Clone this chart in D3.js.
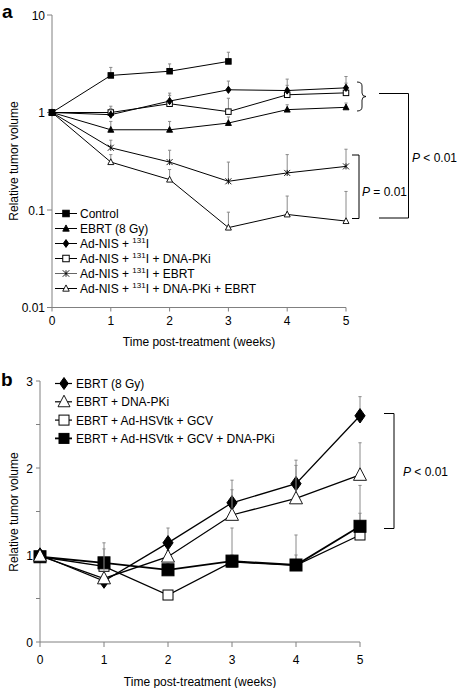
<!DOCTYPE html>
<html><head><meta charset="utf-8">
<script src="https://cdn.jsdelivr.net/npm/d3@7"></script>
<style>body{margin:0;background:#fff}svg{display:block}text{font-family:"Liberation Sans",Arial,sans-serif;fill:#000}</style>
</head><body>
<script>
// ---------- Panel a data ----------
const weeksA = [0,1,2,3,4,5];
const controlA = [1, 2.4, 2.65, 3.34];
const controlErrA = [null, 2.9, 3.15, 4.15];
const ebrtA = [1, 0.665, 0.665, 0.78, 1.07, 1.13];
const ebrtErrA = [null, 0.81, 0.81, 0.9, 1.2, 1.25];
const nisA = [1, 0.95, 1.31, 1.71, 1.68, 1.79];
const nisErrA = [null, 1.1, 1.58, 2.1, 2.2, 2.34];
const nisPkA = [1, 1.0, 1.23, 1.02, 1.52, 1.59];
const nisPkErrA = [null, 1.16, 1.5, 1.4, 1.9, 2.0];
const nisEbrtA = [1, 0.435, 0.31, 0.197, 0.24, 0.28];
const nisEbrtErrA = [null, 0.52, 0.41, 0.31, 0.37, 0.42];
const nisPkEbrtA = [1, 0.31, 0.205, 0.066, 0.09, 0.077];
const nisPkEbrtErrA = [null, 0.37, 0.26, 0.095, 0.139, 0.155];
const yTicksA = [10, 1, 0.1, 0.01];
const yTickLabelsA = ["10", "1", "0.1", "0.01"];

// ---------- Panel b data ----------
const weeksB = [0,1,2,3,4,5];
const ebrtB = [1.0, 0.70, 1.14, 1.6, 1.82, 2.6];
const ebrtErrB = [null, null, 1.31, 1.86, 2.09, 2.82];
const ebrtPkB = [0.99, 0.73, 0.98, 1.46, 1.65, 1.92];
const ebrtPkErrB = [null, 1.07, 1.05, 1.75, 2.03, 2.29];
const hsvB = [0.98, 0.87, 0.54, 0.92, 0.88, 1.23];
const hsvErrB = [null, 0.95, null, 1.0, 1.0, 1.48];
const hsvPkB = [0.98, 0.91, 0.83, 0.93, 0.885, 1.33];
const hsvPkErrB = [null, 1.14, 0.9, 1.31, 1.23, 1.8];
const yTicksB = [0, 0.5, 1, 1.5, 2, 2.5, 3];
const yTickLabelsB = ["0", "", "1", "", "2", "", "3"];

const W = 458, H = 688;
const FS = 12;
const svg = d3.select("body").append("svg").attr("width", W).attr("height", H);
const AX = "#808080", ERR = "#8a8a8a";

function marker(g, type, x, y, s) {
  const h = s/2;
  if (type === "sqF" || type === "sqO") {
    g.append("rect").attr("x", x-h).attr("y", y-h).attr("width", s).attr("height", s)
      .attr("fill", type === "sqF" ? "#000" : "#fff").attr("stroke", "#000").attr("stroke-width", 1);
  } else if (type === "triF" || type === "triO") {
    const hh = s*0.55;
    g.append("path").attr("d", `M${x},${y-hh}L${x+h},${y+hh*0.75}L${x-h},${y+hh*0.75}Z`)
      .attr("fill", type === "triF" ? "#000" : "#fff").attr("stroke", "#000").attr("stroke-width", 0.9);
  } else if (type === "dia") {
    const hh = s*0.6;
    g.append("path").attr("d", `M${x},${y-hh}L${x+h*0.85},${y}L${x},${y+hh}L${x-h*0.85},${y}Z`).attr("fill", "#000").attr("stroke", "#000");
  } else if (type === "star") {
    g.append("path").attr("d", `M${x-h},${y-h}L${x+h},${y+h}M${x-h},${y+h}L${x+h},${y-h}M${x},${y-h}L${x},${y+h}`)
      .attr("stroke", "#000").attr("stroke-width", 0.9).attr("fill", "none");
  }
}

function drawSeries(g, xs, vals, errs, xS, yS, type, size, sw) {
  const pts = vals.map((v,i) => [xS(xs[i]), yS(v)]);
  errs.forEach((e,i) => {
    if (e == null || i >= vals.length) return;
    const x = xS(xs[i]);
    g.append("line").attr("x1", x).attr("x2", x).attr("y1", yS(vals[i])).attr("y2", yS(e)).attr("stroke", ERR).attr("stroke-width", 1);
    g.append("line").attr("x1", x-1.6).attr("x2", x+1.6).attr("y1", yS(e)).attr("y2", yS(e)).attr("stroke", ERR).attr("stroke-width", 1);
  });
  g.append("path").attr("d", d3.line()(pts)).attr("fill", "none").attr("stroke", "#000").attr("stroke-width", sw);
  pts.forEach(p => marker(g, type, p[0], p[1], size));
}

// ================= Panel a =================
const xA = d3.scaleLinear().domain([0,5]).range([52,346]);
const yA = d3.scaleLog().domain([0.01,10]).range([307.5,15]);
const gA = svg.append("g");

svg.append("text").attr("x", 2).attr("y", 18).attr("font-size", 19).attr("font-weight", "bold").text("a");

const axA = gA.append("g");
axA.append("line").attr("x1", xA(0)).attr("x2", xA(0)).attr("y1", yA(10)).attr("y2", yA(0.01)).attr("stroke", AX);
axA.append("line").attr("x1", xA(0)).attr("x2", xA(5)).attr("y1", yA(0.01)).attr("y2", yA(0.01)).attr("stroke", AX);
yTicksA.forEach((t,i) => {
  axA.append("line").attr("x1", xA(0)-5).attr("x2", xA(0)).attr("y1", yA(t)).attr("y2", yA(t)).attr("stroke", AX);
  axA.append("text").attr("x", xA(0)-7).attr("y", yA(t)+4.5).attr("text-anchor", "end").attr("font-size", FS).text(yTickLabelsA[i]);
});
weeksA.forEach(t => {
  axA.append("line").attr("x1", xA(t)).attr("x2", xA(t)).attr("y1", yA(0.01)).attr("y2", yA(0.01)+4).attr("stroke", AX);
  axA.append("text").attr("x", xA(t)).attr("y", 325).attr("text-anchor", "middle").attr("font-size", FS).text(t);
});
axA.append("text").attr("x", 199).attr("y", 346).attr("text-anchor", "middle").attr("font-size", FS).text("Time post-treatment (weeks)");
axA.append("text").attr("transform", "translate(18,161) rotate(-90)").attr("text-anchor", "middle").attr("font-size", FS).text("Relative tumor volume");

drawSeries(gA, weeksA, nisPkEbrtA, nisPkEbrtErrA, xA, yA, "triO", 6, 1);
drawSeries(gA, weeksA, nisEbrtA, nisEbrtErrA, xA, yA, "star", 6, 1);
drawSeries(gA, weeksA, ebrtA, ebrtErrA, xA, yA, "triF", 6, 1);
drawSeries(gA, weeksA, nisPkA, nisPkErrA, xA, yA, "sqO", 5.5, 1);
drawSeries(gA, weeksA, nisA, nisErrA, xA, yA, "dia", 6, 1);
drawSeries(gA, weeksA, controlA, controlErrA, xA, yA, "sqF", 5.5, 1);

const legA = [
  {type:"sqF", parts:[["Control"]]},
  {type:"triF", parts:[["EBRT (8 Gy)"]]},
  {type:"dia", parts:[["Ad-NIS + "],["131","sup"],["I"]]},
  {type:"sqO", parts:[["Ad-NIS + "],["131","sup"],["I + DNA-PKi"]]},
  {type:"star", parts:[["Ad-NIS + "],["131","sup"],["I + EBRT"]]},
  {type:"triO", parts:[["Ad-NIS + "],["131","sup"],["I + DNA-PKi + EBRT"]]}
];
legA.forEach((d,i) => {
  const y = 213.5 + i*15;
  const g = gA.append("g");
  g.append("line").attr("x1", 55).attr("x2", 77).attr("y1", y).attr("y2", y).attr("stroke", d.type==="star"?"#666":"#000").attr("stroke-width", 1);
  marker(g, d.type, 66, y, 6.5);
  const t = g.append("text").attr("x", 80).attr("y", y+4.5).attr("font-size", FS);
  d.parts.forEach((p, k) => {
    if (p[1] === "sup") t.append("tspan").attr("font-size", 8).attr("dy", -5).text(p[0]);
    else if (k > 1) t.append("tspan").attr("dy", 5).text(p[0]);
    else t.append("tspan").text(p[0]);
  });
});

gA.append("path").attr("d", "M357,82 Q362,82 362,86 L362,93 Q362,96.5 366,96.5 Q362,96.5 362,100 L362,107 Q362,111 357,111")
  .attr("fill", "none").attr("stroke", "#000").attr("stroke-width", 0.9);
gA.append("path").attr("d", "M379,93.5 L408.5,93.5 L408.5,218 L379,218").attr("fill", "none").attr("stroke", "#000").attr("stroke-width", 1);
gA.append("path").attr("d", "M352,155 L359,155 L359,218.5 L352,218.5").attr("fill", "none").attr("stroke", "#000").attr("stroke-width", 1);
const pa1 = gA.append("text").attr("x", 412).attr("y", 162).attr("font-size", FS);
pa1.append("tspan").attr("font-style", "italic").text("P");
pa1.append("tspan").text(" < 0.01");
const pa2 = gA.append("text").attr("x", 362).attr("y", 196).attr("font-size", FS);
pa2.append("tspan").attr("font-style", "italic").text("P");
pa2.append("tspan").text(" = 0.01");

// ================= Panel b =================
const xB = d3.scaleLinear().domain([0,5]).range([40,360]);
const yB = d3.scaleLinear().domain([0,3]).range([642,381]);
const gB = svg.append("g");
svg.append("text").attr("x", 1).attr("y", 386).attr("font-size", 19).attr("font-weight", "bold").text("b");

const axB = gB.append("g");
axB.append("line").attr("x1", xB(0)).attr("x2", xB(0)).attr("y1", yB(3)).attr("y2", yB(0)).attr("stroke", AX);
axB.append("line").attr("x1", xB(0)).attr("x2", xB(5)).attr("y1", yB(0)).attr("y2", yB(0)).attr("stroke", AX);
yTicksB.forEach((t,i) => {
  axB.append("line").attr("x1", xB(0)-4).attr("x2", xB(0)).attr("y1", yB(t)).attr("y2", yB(t)).attr("stroke", AX);
  if (yTickLabelsB[i]) axB.append("text").attr("x", xB(0)-7).attr("y", yB(t)+4.5).attr("text-anchor", "end").attr("font-size", FS).text(yTickLabelsB[i]);
});
weeksB.forEach(t => {
  axB.append("line").attr("x1", xB(t)).attr("x2", xB(t)).attr("y1", yB(0)).attr("y2", yB(0)+5).attr("stroke", AX);
  axB.append("text").attr("x", xB(t)).attr("y", 664).attr("text-anchor", "middle").attr("font-size", FS).text(t);
});
axB.append("text").attr("x", 200).attr("y", 686).attr("text-anchor", "middle").attr("font-size", FS).text("Time post-treatment (weeks)");
axB.append("text").attr("transform", "translate(18,512) rotate(-90)").attr("text-anchor", "middle").attr("font-size", FS).text("Relative tumor volume");

drawSeries(gB, weeksB, hsvB, hsvErrB, xB, yB, "sqO", 10, 1.3);
drawSeries(gB, weeksB, hsvPkB, hsvPkErrB, xB, yB, "sqF", 12, 1.8);
drawSeries(gB, weeksB, ebrtB, ebrtErrB, xB, yB, "dia", 12, 1.3);
drawSeries(gB, weeksB, ebrtPkB, ebrtPkErrB, xB, yB, "triO", 13, 1.3);

const legB = [
  {type:"dia", text:"EBRT (8 Gy)"},
  {type:"triO", text:"EBRT + DNA-PKi"},
  {type:"sqO", text:"EBRT + Ad-HSVtk + GCV"},
  {type:"sqF", text:"EBRT + Ad-HSVtk + GCV + DNA-PKi"}
];
legB.forEach((d,i) => {
  const y = 383.5 + i*18.3;
  const g = gB.append("g");
  g.append("line").attr("x1", 55).attr("x2", 72).attr("y1", y).attr("y2", y).attr("stroke", "#000").attr("stroke-width", d.type==="sqF"?1.8:1.2);
  marker(g, d.type, 64, y, d.type==="triO"?12:10);
  g.append("text").attr("x", 76).attr("y", y+4.5).attr("font-size", FS).text(d.text);
});

gB.append("path").attr("d", "M384,413.5 L394,413.5 L394,528.5 L384,528.5").attr("fill", "none").attr("stroke", "#000").attr("stroke-width", 1);
const pb = gB.append("text").attr("x", 403).attr("y", 476).attr("font-size", FS);
pb.append("tspan").attr("font-style", "italic").text("P");
pb.append("tspan").text(" < 0.01");
</script>
</body></html>
